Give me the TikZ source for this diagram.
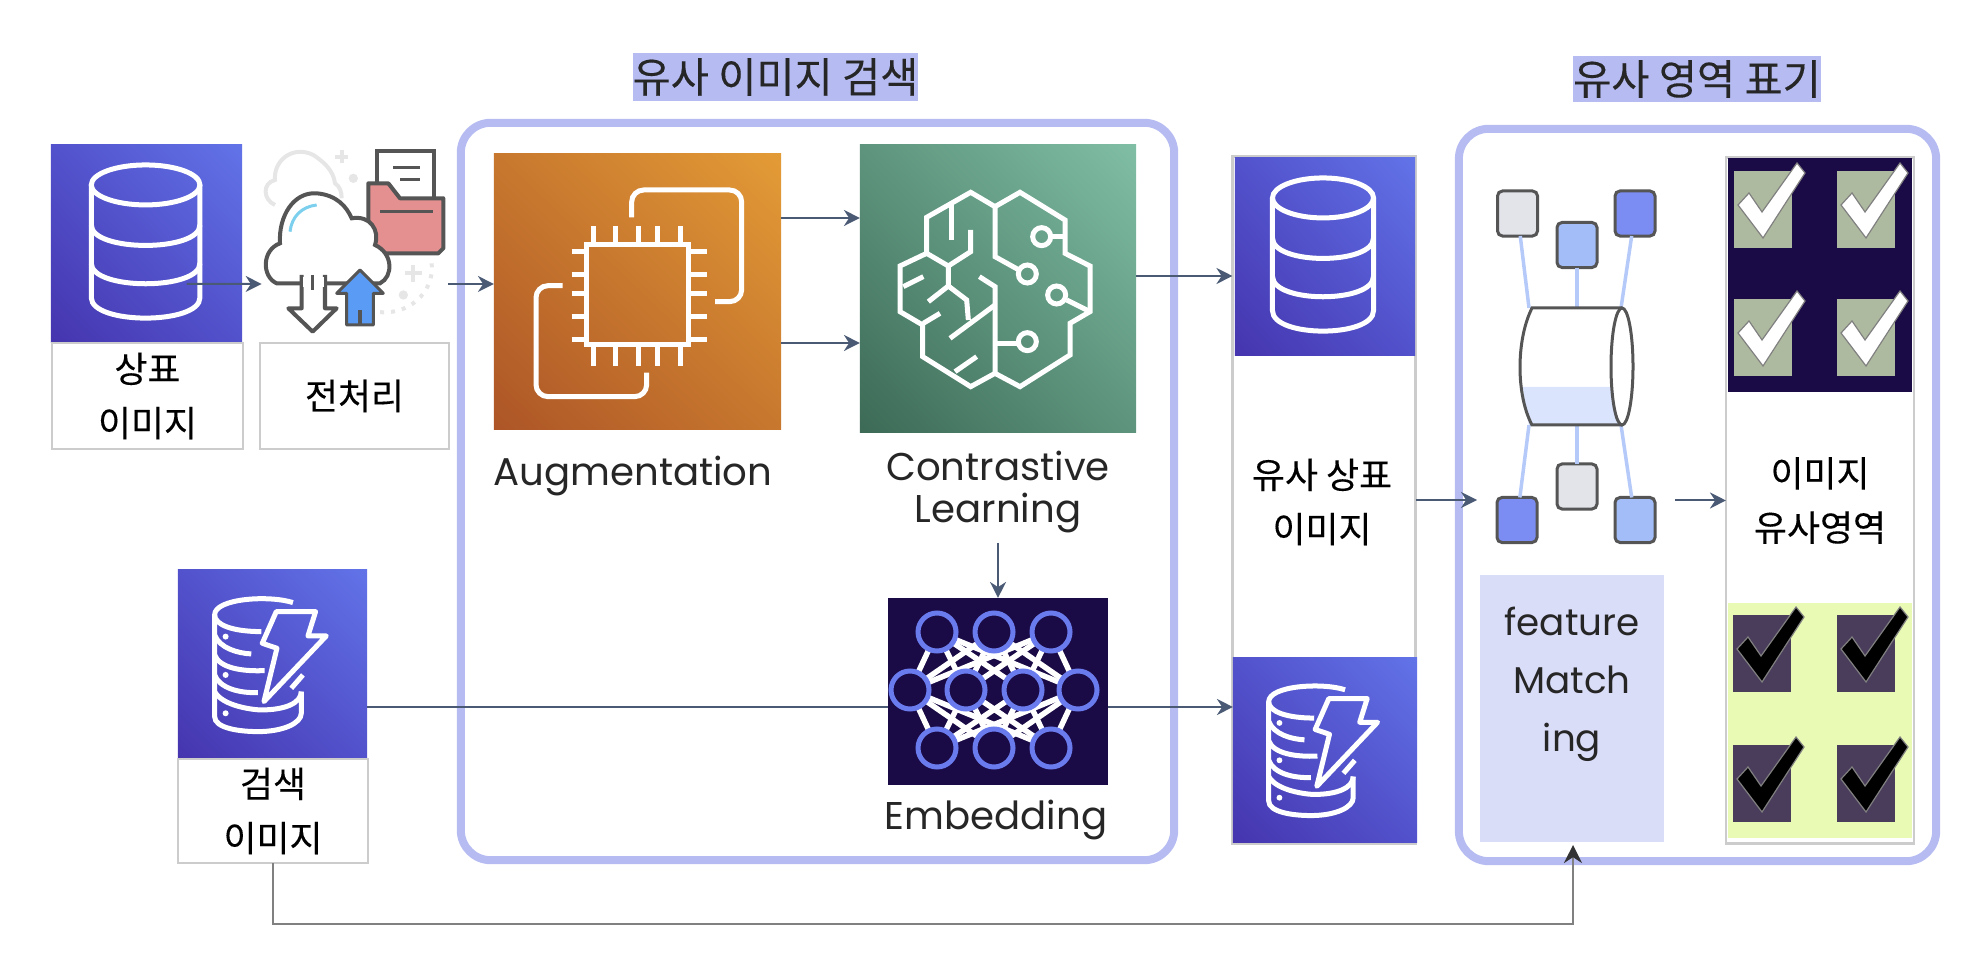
\documentclass[tikz,border=0pt]{standalone}
\usepackage{fontspec}
\setmainfont[FakeBold=.25]{Noto Sans CJK KR}
\newfontfamily\latinfont{Poppins}
\usetikzlibrary{positioning,arrows.meta,shadings}
\definecolor{framecol}{HTML}{B6BCF2}
\definecolor{boxline}{HTML}{CCCCCC}
\definecolor{flowcol}{HTML}{4A5A75}
\definecolor{navy}{HTML}{1A0A45}
\definecolor{iconline}{HTML}{555555}
\definecolor{faint}{HTML}{E6E6E6}
\definecolor{ringcol}{HTML}{6A7BEE}
\definecolor{sqgray}{HTML}{E3E4EA}
\definecolor{sqlight}{HTML}{A3BDF8}
\definecolor{sqblue}{HTML}{7B8DF2}
\definecolor{tickgreen}{HTML}{AEBA9F}
\definecolor{tickdark}{HTML}{4A3D5C}
\definecolor{limecol}{HTML}{E9FAB5}
\definecolor{tbl}{HTML}{4535AE}
\definecolor{tur}{HTML}{6273E8}
\definecolor{tmid}{HTML}{5252CC}
\definecolor{orgl}{HTML}{AD5527}
\definecolor{orgr}{HTML}{E39B36}
\definecolor{orgm}{HTML}{C8782E}
\definecolor{grnl}{HTML}{3C6A56}
\definecolor{grnr}{HTML}{80BEA5}
\definecolor{grnm}{HTML}{5E947D}
\definecolor{folderpink}{HTML}{E59090}
\definecolor{arrowblue}{HTML}{5A9CF5}
\definecolor{glint}{HTML}{7CD0EE}
\tikzset{
	frame/.style = {draw=framecol, line width=.08cm, rounded corners=.3cm, inner sep=0, outer sep=0},
	labelbox/.style = {draw=boxline, line width=.028cm, inner sep=0, outer sep=0, align=center},
	tile/.style = {inner sep=0, outer sep=0},
	bluefill/.style = {tile, lower left=tbl, upper right=tur, upper left=tmid, lower right=tmid},
	flow/.style = {draw=flowcol, line width=.02cm, -{Stealth[length=.16cm,width=.16cm]}},
	graytip/.style = {draw=gray, line width=.025cm, -{Stealth[length=.18cm,width=.18cm,black!80]}},
	title/.style = {fill=framecol, inner sep=0, font=\fontsize{11.8}{14}\selectfont, text=black!85},
	kotext/.style = {font=\fontsize{10.2}{15.4}\selectfont, align=center},
	entext/.style = {font=\latinfont\fontsize{11}{12.2}\selectfont, align=center, text=black!85},
	square/.style = {draw=iconline, line width=.03cm, rounded corners=.05cm, minimum width=.4cm, minimum height=.45cm, inner sep=0, outer sep=0},
	link/.style = {draw=sqlight!80!white, line width=.035cm},
	icon/.style = {draw=white, line width=.05cm},
}
\tikzset{
	dbicon/.pic = {
	 \coordinate (-out) at (407,417) ;
	 \draw [icon] (284,120) ellipse [x radius=163, y radius=60];
	 \draw [icon] (121,120) -- (121,458) .. controls (121,540) and (447,540) .. (447,458) -- (447,120);
	 \draw [icon] (121,240) .. controls (121,322) and (447,322) .. (447,240);
	 \draw [icon] (121,355) .. controls (121,437) and (447,437) .. (447,355);
	 }
	}
\tikzset{
	dynoicon/.pic = {
	 \draw [icon] (345,98) .. controls (275,75) and (110,85) .. (110,135) .. controls (110,165) and (165,185) .. (250,185);
	 \draw [icon] (110,135) -- (110,440) .. controls (110,475) and (185,485) .. (240,485) .. controls (315,485) and (370,460) .. (370,430) -- (370,365);
	 \draw [icon] (110,195) .. controls (125,235) and (180,250) .. (220,252);
	 \draw [icon] (110,255) .. controls (125,295) and (195,305) .. (260,302);
	 \draw [icon] (110,315) .. controls (125,355) and (185,370) .. (240,368);
	 \draw [icon] (110,365) .. controls (135,410) and (230,420) .. (250,420) .. controls (320,420) and (370,400) .. (370,365);
	 \draw [icon] (340,355) -- (375,315);
	 \draw [icon, line join=round] (295,125) -- (413,125) -- (390,198) -- (445,198) -- (258,395) -- (297,235) -- (253,220) -- cycle;
	 \foreach \dy in {200,315,430} {\fill [white] (143,\dy) circle (9);}
	 }
	}
\tikzset{
	chipicon/.pic = {
	 \draw [icon] (318,315) rectangle (625,615);
	 \foreach \px in {340,407,475,533,602} {\draw [icon] (\px,258) -- (\px,315); \draw [icon] (\px,615) -- (\px,678);}
	 \foreach \py in {335,403,460,530,598} {\draw [icon] (275,\py) -- (318,\py); \draw [icon] (625,\py) -- (682,\py);}
	 \draw [icon, rounded corners=.12cm] (455,232) -- (455,150) -- (785,150) -- (785,485) -- (705,485);
	 \draw [icon, rounded corners=.12cm] (248,437) -- (168,437) -- (168,770) -- (500,770) -- (500,698);
	 }
	}
\tikzset{
	brainicon/.pic = {
	 \draw [icon] (465,230) -- (392,187) -- (260,262) -- (260,370) -- (180,408) -- (180,545) -- (248,585) -- (248,680) -- (392,770) -- (465,730);
	 \draw [icon] (465,230) -- (540,187) -- (675,270) -- (675,370) -- (750,408) -- (750,545) -- (690,580) -- (690,675) -- (540,770) -- (465,730);
	 \draw [icon] (465,230) -- (465,380) -- (537,420);
	 \draw [icon] (465,730) -- (465,470) -- (418,440);
	 \draw [icon] (465,640) -- (535,640);
	 \draw [icon] (635,320) -- (675,320);
	 \draw [icon] (680,510) -- (750,545);
	 \draw [icon] (335,220) -- (335,330);
	 \draw [icon] (392,300) -- (392,365) -- (325,408) -- (325,468) -- (380,510) -- (385,570);
	 \draw [icon] (260,370) -- (325,408);
	 \draw [icon] (325,468) -- (265,515);
	 \draw [icon] (190,470) -- (250,440);
	 \draw [icon] (250,580) -- (300,550);
	 \draw [icon] (330,625) -- (465,525);
	 \draw [icon] (345,725) -- (410,680);
	 \draw [icon] (562,432) circle (27);
	 \draw [icon] (562,635) circle (27);
	 \draw [icon] (605,320) circle (27);
	 \draw [icon] (650,495) circle (27);
	 }
	}
\tikzset{
	cloudicon/.pic = {
	 \coordinate (-left) at (695,492) ;
	 \coordinate (-right) at (1255,492) ;
	 % faint back cloud
	 \draw [faint, line width=.04cm] (735,255) .. controls (700,240) and (695,190) .. (735,180) .. controls (730,120) and (790,75) .. (850,105) .. controls (880,125) and (910,150) .. (915,190) .. controls (930,200) and (935,215) .. (935,235);
	 \draw [faint, line width=.04cm] (935,90) -- (935,130) (915,110) -- (955,110) (1150,435) -- (1150,485) (1125,460) -- (1175,460);
	 \fill [faint] (970,175) circle (14) (1120,525) circle (14);
	 \draw [faint, line width=.04cm, dotted] (1205,430) .. controls (1215,520) and (1130,590) .. (1040,575);
	 % paper and folder
	 \filldraw [fill=white, draw=iconline, line width=.04cm] (1042,235) -- (1042,92) -- (1212,92) -- (1212,235);
	 \draw [iconline, line width=.03cm] (1090,143) -- (1170,143) (1110,180) -- (1170,180);
	 \filldraw [fill=folderpink, draw=iconline, line width=.04cm, line join=round] (1015,190) -- (1075,190) -- (1110,235) -- (1240,235) -- (1240,385) -- (1225,400) -- (1040,400) -- (1015,300) -- cycle;
	 \draw [iconline, line width=.03cm] (1050,275) -- (1210,275);
	 % cloud
	 \filldraw [fill=white, draw=iconline, line width=.04cm] (810,490) -- (740,490) .. controls (695,470) and (695,390) .. (750,370) .. controls (745,290) and (790,215) .. (860,220) .. controls (920,225) and (950,260) .. (965,295) .. controls (1020,285) and (1050,330) .. (1035,375) .. controls (1090,400) and (1090,470) .. (1050,490) -- cycle;
	 \draw [glint, line width=.03cm] (780,335) .. controls (785,290) and (815,260) .. (860,255);
	 % arrows
	 \filldraw [fill=white, draw=iconline, line width=.04cm, line join=round] (815,465) -- (815,565) -- (775,565) -- (848,635) -- (920,565) -- (885,565) -- (885,465);
	 \fill [white] (818,470) rectangle (882,500);
	 \draw [iconline, line width=.03cm] (848,465) -- (848,510);
	 \filldraw [fill=arrowblue, draw=iconline, line width=.03cm, line join=round] (990,450) -- (1060,520) -- (1030,520) -- (1030,615) -- (950,615) -- (950,520) -- (920,520) -- cycle;
	 \draw [iconline, line width=.03cm] (990,570) -- (990,615);
	 }
	}
\tikzset{
	tickmark/.pic = {
	 \filldraw [fill=#1, draw=gray, line width=.012cm] (4,34) -- (15,22) -- (28,41) -- (63,-8) -- (71,2) -- (29,67) -- cycle;
	 }
	}

\begin{document}
\begin{tikzpicture}[x=.01cm, y=-.01cm]
\useasboundingbox (0,0) rectangle (1982,980);

% FRAMES
\node (leftframe) [frame, minimum width=7.13cm, minimum height=7.37cm] at (817.5,491.5) {};
\node (rightframe) [frame, minimum width=4.77cm, minimum height=7.32cm] at (1697.5,495) {};
\node (simframe) [labelbox, minimum width=1.83cm, minimum height=6.86cm] at (1324,500) {};
\node (rgnframe) [labelbox, kotext, minimum width=1.88cm, minimum height=6.85cm] at (1820,500.5) {이미지\\유사영역};

% titles
\node (simtitle) [title, minimum width=2.83cm, minimum height=.48cm] at (775.5,77) {유사 이미지 검색};
\node (rgntitle) [title, minimum width=2.46cm, minimum height=.46cm] at (1697,79) {유사 영역 표기};

% TILES
\node (srcdb) [bluefill, minimum width=1.91cm, minimum height=1.97cm] at (146.5,243.5) {};
\node (srclabel) [labelbox, kotext, minimum width=1.91cm, minimum height=1.06cm] at (147.5,396) {상표\\이미지};
\node (preplabel) [labelbox, kotext, minimum width=1.89cm, minimum height=1.06cm] at (354.5,396) {전처리};
\node (augtile) [tile, lower left=orgl, upper right=orgr, upper left=orgm, lower right=orgm, minimum width=2.87cm, minimum height=2.75cm] at (637.5,291.5) {};
\node (cltile) [tile, lower left=grnl, upper right=grnr, upper left=grnm, lower right=grnm, minimum width=2.76cm, minimum height=2.87cm] at (998,288.5) {};
\node (embtile) [tile, fill=navy, minimum width=2.2cm, minimum height=1.87cm] at (998,691.5) {};
\node (schtile) [bluefill, minimum width=1.89cm, minimum height=1.89cm] at (272.5,664.5) {};
\node (schlabel) [labelbox, kotext, minimum width=1.9cm, minimum height=1.04cm] at (273,811) {검색\\이미지};
\node (simdb) [bluefill, minimum width=1.8cm, minimum height=1.97cm] at (1325,256.5) {};
\node (simdyno) [bluefill, minimum width=1.84cm, minimum height=1.84cm] at (1325,750) {};
\node (matchbox) [tile, fill=framecol!50!white, minimum width=1.84cm, minimum height=2.67cm] at (1572,708.5) {};
\node (rgntop) [tile, fill=navy, minimum width=1.84cm, minimum height=2.34cm] at (1820,275) {};
\node (rgnlow) [tile, fill=limecol, minimum width=1.84cm, minimum height=2.35cm] at (1820,720.5) {};

% ICONS
\pic (srcicon) [scale=1/3] at (srcdb.north west) {dbicon};
\pic (simicon) [xscale=.31, yscale=1/3] at (simdb.north west) {dbicon};
\pic [scale=1/3] at (schtile.north west) {dynoicon};
\pic [scale=.325] at (simdyno.north west) {dynoicon};
\pic (cloud) [scale=1/3] at (30,120) {cloudicon};
\pic [scale=1/3] at (480,140) {chipicon};
\pic [scale=1/3] at (840,130) {brainicon};

% neural net
\foreach \tx in {937,994,1051} \foreach \mx in {910,966,1023,1078} {
	\draw [white, line width=.055cm] (\tx,632) -- (\mx,690);
	\draw [white, line width=.055cm] (\tx,748) -- (\mx,690);
}
\foreach \nx/\ny in {937/632,994/632,1051/632,910/690,966/690,1023/690,1078/690,937/748,994/748,1051/748}
	\filldraw [fill=navy, draw=ringcol, line width=.05cm] (\nx,\ny) circle (19);

% ticks
\foreach \cx in {1734,1837} \foreach \cy in {171,299} {
	\fill [tickgreen] (\cx,\cy) rectangle ++(58,77);
	\pic at (\cx,\cy) {tickmark=white};
}
\foreach \cx in {1733,1837} \foreach \cy in {615,745} {
	\fill [tickdark] (\cx,\cy) rectangle ++(58,77);
	\pic at (\cx,\cy) {tickmark=black};
}

% matching
\coordinate (cyla) at (1529,308);
\coordinate (cylb) at (1577,308);
\coordinate (cylc) at (1621,308);
\coordinate (cyld) at (1529,425);
\coordinate (cyle) at (1577,425);
\coordinate (cylf) at (1621,425);
\node (sqa) [square, fill=sqgray] at (1517.5,213.5) {};
\node (sqb) [square, fill=sqlight] at (1577,245) {};
\node (sqc) [square, fill=sqblue] at (1635,213.5) {};
\node (sqd) [square, fill=sqblue] at (1517,520) {};
\node (sqe) [square, fill=sqgray] at (1577,486.5) {};
\node (sqf) [square, fill=sqlight] at (1635,520) {};
\draw [link] (sqa) -- (cyla);
\draw [link] (sqb) -- (cylb);
\draw [link] (sqc) -- (cylc);
\draw [link] (sqd) -- (cyld);
\draw [link] (sqe) -- (cyle);
\draw [link] (sqf) -- (cylf);
\fill [sqlight!40!white] (1523,387) -- (1612,387) .. controls (1613,405) and (1617,418) .. (1622,425) -- (1529,425) .. controls (1526,415) and (1524,400) .. (1523,387);
\draw [iconline, line width=.03cm] (1622,308) -- (1532,308) .. controls (1516,340) and (1516,395) .. (1532,425) -- (1622,425);
\draw [iconline, line width=.03cm] (1622,366.5) ellipse [x radius=11, y radius=58.5];

% TEXT
\node (simnote) [kotext] at (1322,502) {유사 상표\\이미지};
\node (augnote) [entext] at (633,476) {Augmentation};
\node (clnote) [entext, minimum height=1cm, inner sep=0] at (998,492) {Contrastive\\Learning};
\node (embnote) [entext] at (996,820) {Embedding};
\node (matchnote) [entext, font=\latinfont\fontsize{10.6}{16.5}\selectfont] at (1572,684) {feature\\Match\\ing};

% CONNECTIONS
\coordinate (augup) at (781,218);
\coordinate (augdown) at (781,343);
\coordinate (clout) at (1136,276);
\coordinate (schout) at (367,707);
\coordinate (embout) at (1108,707);
\coordinate (matchin) at (1477,500);
\coordinate (matchout) at (1675,500.5);
\coordinate (rightin) at (1573,845);
\coordinate (bendpt) at (1573,924);
\draw [flow] (srcicon-out) -- (cloud-left);
\draw [flow] (cloud-right) -- (cloud-right -| augtile.west);
\draw [flow] (augup) -- (augup -| cltile.west);
\draw [flow] (augdown) -- (augdown -| cltile.west);
\draw [flow] (clout) -- (clout -| simframe.west);
\draw [flow] (clnote.south) -- (embtile.north);
\draw [flow, -] (schout) -- (schout -| embtile.west);
\draw [flow] (embout) -- (embout -| simdyno.west);
\draw [flow] (simframe.east) -- (matchin);
\draw [flow] (matchout) -- (rgnframe.west);
\draw [graytip] (schlabel.south) |- (bendpt) -- (rightin);

\end{tikzpicture}
\end{document}
